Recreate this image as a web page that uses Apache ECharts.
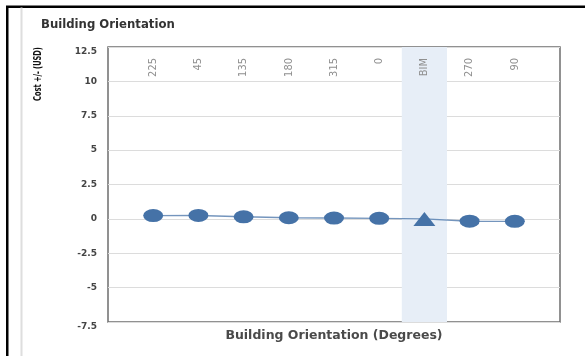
<!DOCTYPE html>
<html>
<head>
<meta charset="utf-8">
<script src="https://cdn.jsdelivr.net/npm/echarts@6/dist/echarts.min.js"></script>
<style>
  html, body { margin: 0; padding: 0; background: #fff; }
  #chart { width: 585px; height: 356px; }
</style>
</head>
<body>
<div id="chart"></div>
<script>
// Orientation cases, in plotted order
const categories = ['225', '45', '135', '180', '315', '0', 'BIM', '270', '90'];
// Cost difference against the baseline, USD
const costValues = [0.24, 0.25, 0.15, 0.08, 0.06, 0.04, 0, -0.17, -0.18];
// Value-axis ticks
const yTicks = [-7.5, -5, -2.5, 0, 2.5, 5, 7.5, 10, 12.5];
const highlighted = 'BIM';

const BLUE = '#4572A7';
const boldFont = '"DejaVu Sans", Verdana, sans-serif';
const narrowFont = '"Liberation Sans Narrow", "DejaVu Sans Condensed", sans-serif';

// Categories sit at positions 1..n on a 0..n+1 value scale
const points = categories.map((c, i) => ({
  value: [i + 1, costValues[i]],
  symbol: c === highlighted ? 'triangle' : 'circle',
  symbolSize: c === highlighted ? [22, 14] : [20, 13]
}));
const hiPos = categories.indexOf(highlighted) + 1;

const chart = echarts.init(document.getElementById('chart'), null, { renderer: 'canvas' });
chart.setOption({
  animation: false,
  backgroundColor: '#fff',
  title: {
    text: 'Building Orientation',
    left: 36, top: 14,
    textStyle: { fontFamily: boldFont, fontWeight: 'bold', fontSize: 11.7, color: '#333' }
  },
  graphic: [
    { type: 'rect', shape: { x: 6, y: 6, width: 2.5, height: 350 }, style: { fill: '#000' }, silent: true },
    { type: 'rect', shape: { x: 6, y: 5.5, width: 579, height: 2.5 }, style: { fill: '#000' }, silent: true },
    { type: 'rect', shape: { x: 20.5, y: 7.5, width: 2, height: 349 }, style: { fill: '#dedede' }, silent: true },
    {
      // vertical axis title, narrowed along its length
      type: 'text', x: 38, y: 74, rotation: Math.PI / 2, scaleX: 0.74, silent: true,
      style: {
        text: 'Cost +/- (USD)', align: 'center', verticalAlign: 'middle',
        fontFamily: narrowFont, fontWeight: 'bold', fontSize: 10, fill: '#111'
      }
    }
  ],
  grid: {
    left: 108, right: 25, top: 47, bottom: 34,
    show: true, borderColor: '#6e6e6e', borderWidth: 1.5, backgroundColor: 'transparent'
  },
  xAxis: [
    {
      type: 'value', position: 'top', z: 10,
      min: 0, max: categories.length + 1, interval: 1,
      axisLine: { show: false }, axisTick: { show: false }, splitLine: { show: false },
      axisLabel: {
        inside: true, rotate: 90, margin: 11,
        fontFamily: narrowFont, fontSize: 11, color: '#8f8f8f',
        formatter: v => categories[v - 1] || ''
      }
    },
    {
      type: 'value', position: 'bottom',
      min: 0, max: categories.length + 1,
      axisLine: { show: false }, axisTick: { show: false }, splitLine: { show: false },
      axisLabel: { show: false },
      name: 'Building Orientation (Degrees)',
      nameLocation: 'middle', nameGap: 7,
      nameTextStyle: { fontFamily: boldFont, fontWeight: 'bold', fontSize: 12.5, color: '#4a4a4a' }
    }
  ],
  yAxis: {
    type: 'value',
    min: yTicks[0], max: yTicks[yTicks.length - 1], interval: 2.5,
    axisLine: { show: false }, axisTick: { show: false },
    splitLine: { show: true, lineStyle: { color: '#dcdcdc', width: 1 } },
    axisLabel: {
      margin: 11,
      fontFamily: boldFont, fontWeight: 'bold', fontSize: 9, color: '#444',
      verticalAlignMaxLabel: 'top',
      verticalAlignMinLabel: 'top'
    }
  },
  series: [{
    type: 'line',
    xAxisIndex: 0,
    data: points,
    itemStyle: { color: BLUE },
    lineStyle: { color: BLUE, width: 1.4, opacity: 0.75 },
    z: 3,
    markArea: {
      silent: true,
      itemStyle: { color: '#e7eef7' },
      data: [[{ xAxis: hiPos - 0.5 }, { xAxis: hiPos + 0.5 }]]
    }
  }]
});
</script>
</body>
</html>
